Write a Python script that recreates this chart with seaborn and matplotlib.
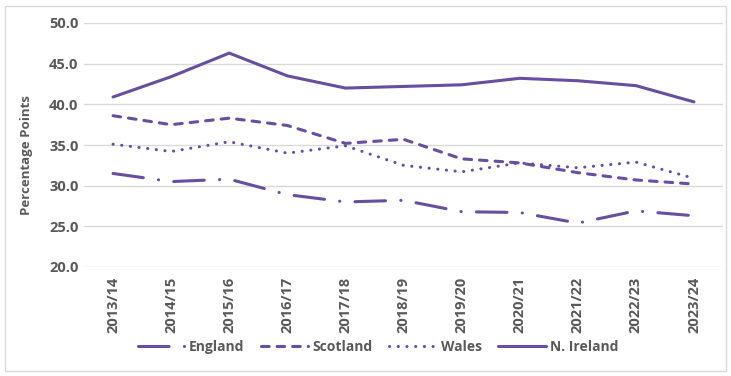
import matplotlib
matplotlib.use("Agg")
import matplotlib.pyplot as plt
from matplotlib.patches import Rectangle
import pandas as pd
import seaborn as sns

years = ["2013/14", "2014/15", "2015/16", "2016/17", "2017/18", "2018/19",
         "2019/20", "2020/21", "2021/22", "2022/23", "2023/24"]
england = [31.5, 30.5, 30.8, 28.9, 28.0, 28.2, 26.8, 26.7, 25.4, 26.9, 26.3]
scotland = [38.6, 37.5, 38.3, 37.4, 35.2, 35.7, 33.3, 32.8, 31.6, 30.7, 30.2]
wales = [35.1, 34.2, 35.4, 34.0, 34.9, 32.5, 31.7, 32.8, 32.2, 32.9, 30.9]
n_ireland = [40.9, 43.4, 46.3, 43.5, 42.0, 42.2, 42.4, 43.2, 42.9, 42.3, 40.3]
regions = ["England", "Scotland", "Wales", "N. Ireland"]

purple = "#674ea0"
text_col = "#595959"

rows = []
for name, vals in zip(regions, [england, scotland, wales, n_ireland]):
    for i, v in enumerate(vals):
        rows.append({"Year": i, "Region": name, "Value": v})
df = pd.DataFrame(rows)

sns.set_style("white")
plt.rcParams["font.family"] = ["Open Sans", "DejaVu Sans"]

fig = plt.figure(figsize=(7.31, 3.76), dpi=100)
ax = fig.add_axes([84 / 731, 1 - 267 / 376, (723 - 84) / 731, (267 - 23) / 376])

dash_styles = {
    "England": (10, 5, 0.05, 5),
    "Scotland": (2.5, 2.6),
    "Wales": (0.05, 2.8),
    "N. Ireland": "",
}
sns.lineplot(data=df, x="Year", y="Value", style="Region", style_order=regions,
             dashes=dash_styles, color=purple, linewidth=2.2, legend=False, ax=ax)

for line in ax.get_lines():
    line.set_dash_capstyle("round")
    line.set_solid_capstyle("round")

ax.set_xlim(-0.5, len(years) - 0.5)
ax.set_ylim(20, 50)
ax.set_yticks([20, 25, 30, 35, 40, 45, 50])
ax.set_yticklabels([f"{t:.1f}" for t in [20, 25, 30, 35, 40, 45, 50]])
ax.set_xticks(range(len(years)))
ax.set_xticklabels(years, rotation=90)
ax.grid(axis="y", color="#d9d9d9", linewidth=1)
for s in ax.spines.values():
    s.set_visible(False)
ax.tick_params(axis="both", length=0, labelsize=10.5, labelcolor=text_col)
ax.tick_params(axis="y", pad=4)
ax.tick_params(axis="x", pad=7)
for lab in ax.get_xticklabels() + ax.get_yticklabels():
    lab.set_fontweight("bold")
ax.set_xlabel("")
ax.set_ylabel("Percentage Points", fontsize=9.5, color=text_col, fontweight="bold")
ax.yaxis.set_label_coords(-0.08, 0.46)

handles = ax.get_lines()[:4]
fig.legend(handles, regions, loc="center", bbox_to_anchor=(378 / 731, 1 - 347 / 376),
           ncol=4, frameon=False, handlelength=3.4, handletextpad=0.3,
           columnspacing=1.2, prop={"size": 10, "weight": "bold"}, labelcolor=text_col)

fig.patches.append(Rectangle((5 / 731, 1 - 371 / 376), 721 / 731, 365 / 376,
                             transform=fig.transFigure, fill=False,
                             edgecolor="#d9d9d9", linewidth=1))

fig.savefig("out.png", dpi=100)
